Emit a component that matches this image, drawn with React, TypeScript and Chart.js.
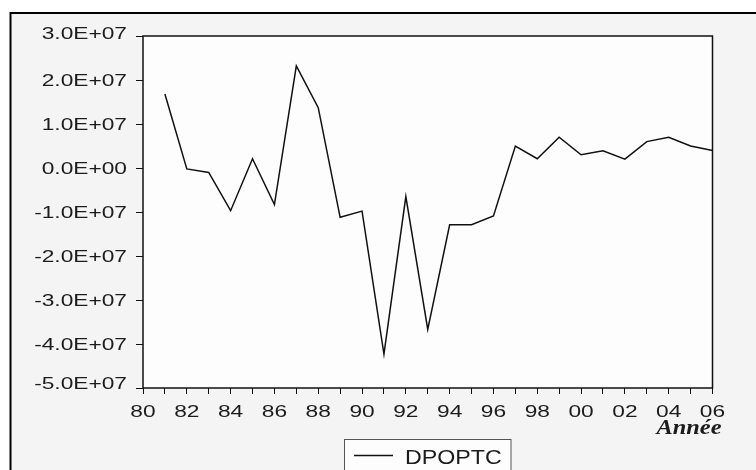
import { useEffect, useRef } from "react";
import { Chart, registerables } from "chart.js";

Chart.register(...registerables);

// Annual series, 1981–2006
const years = [
  1981, 1982, 1983, 1984, 1985, 1986, 1987, 1988, 1989, 1990, 1991, 1992, 1993,
  1994, 1995, 1996, 1997, 1998, 1999, 2000, 2001, 2002, 2003, 2004, 2005, 2006,
];
const dpoptc = [
  1.68e7, -0.02e7, -0.1e7, -0.97e7, 0.21e7, -0.83e7, 2.32e7, 1.37e7, -1.12e7,
  -0.98e7, -4.23e7, -0.65e7, -3.67e7, -1.29e7, -1.29e7, -1.09e7, 0.5e7, 0.21e7,
  0.7e7, 0.3e7, 0.39e7, 0.2e7, 0.6e7, 0.7e7, 0.5e7, 0.4e7,
];
const seriesName = "DPOPTC";
const axisTitle = "Année";

// Axis labelling
const xLabelYears = [1980, 1982, 1984, 1986, 1988, 1990, 1992, 1994, 1996, 1998, 2000, 2002, 2004, 2006];
const xTickLabels = ["80", "82", "84", "86", "88", "90", "92", "94", "96", "98", "00", "02", "04", "06"];
const yTickValues = [3e7, 2e7, 1e7, 0, -1e7, -2e7, -3e7, -4e7, -5e7];
const yTickLabels = [
  "3.0E+07", "2.0E+07", "1.0E+07", "0.0E+00", "-1.0E+07",
  "-2.0E+07", "-3.0E+07", "-4.0E+07", "-5.0E+07",
];

const W = 756;
const H = 470;
const TEXT = "#1c1c1c";
const PANEL = "#f4f4f4";

function wideText(
  ctx: CanvasRenderingContext2D,
  text: string,
  x: number,
  y: number,
  sx: number,
  align: CanvasTextAlign
) {
  ctx.save();
  ctx.translate(x, y);
  ctx.scale(sx, 1);
  ctx.textAlign = align;
  ctx.textBaseline = "alphabetic";
  ctx.fillText(text, 0, 0);
  ctx.restore();
}

const framePlugin = {
  id: "eviewsFrame",
  beforeDraw(chart: any) {
    const { ctx, chartArea } = chart;
    ctx.save();
    ctx.fillStyle = "#ffffff";
    ctx.fillRect(0, 0, W, H);
    // outer panel
    ctx.fillStyle = PANEL;
    ctx.fillRect(10.5, 13, W + 20, H + 20);
    ctx.strokeStyle = "#000";
    ctx.lineWidth = 2;
    ctx.strokeRect(10.5, 13, W + 20, H + 20);
    // plot area
    ctx.fillStyle = "#fdfdfd";
    ctx.fillRect(chartArea.left, chartArea.top, chartArea.right - chartArea.left, chartArea.bottom - chartArea.top);
    ctx.restore();
  },
  afterDraw(chart: any) {
    const { ctx, chartArea, scales } = chart;
    ctx.save();
    // plot border
    ctx.strokeStyle = "#111";
    ctx.lineWidth = 1.5;
    ctx.strokeRect(chartArea.left, chartArea.top, chartArea.right - chartArea.left, chartArea.bottom - chartArea.top);

    ctx.fillStyle = TEXT;
    ctx.font = '16px "Liberation Sans", Arial, sans-serif';
    // y tick labels
    yTickValues.forEach((v, i) => {
      let y = scales.y.getPixelForValue(v);
      if (i === 0) y -= 2.5;
      if (i === yTickValues.length - 1) y -= 5;
      wideText(ctx, yTickLabels[i], 127, y + 5.8, 1.42, "right");
    });
    // x tick labels
    xLabelYears.forEach((yr, i) => {
      const x = scales.x.getPixelForValue(yr);
      wideText(ctx, xTickLabels[i], x, 416.5, 1.42, "center");
    });

    // axis title
    ctx.font = 'italic bold 20px "Liberation Serif", "Times New Roman", serif';
    wideText(ctx, axisTitle, 721.5, 434.3, 1.22, "right");

    // legend box
    ctx.fillStyle = "#fdfdfd";
    ctx.fillRect(344.5, 439.5, 166.5, 40);
    ctx.strokeStyle = "#555";
    ctx.lineWidth = 1;
    ctx.strokeRect(344.5, 439.5, 166.5, 40);
    ctx.strokeStyle = "#111";
    ctx.lineWidth = 1.5;
    ctx.beginPath();
    ctx.moveTo(354, 455.5);
    ctx.lineTo(393, 455.5);
    ctx.stroke();
    ctx.fillStyle = TEXT;
    ctx.font = '19.5px "Liberation Sans", Arial, sans-serif';
    wideText(ctx, chart.data.datasets[0].label, 405, 464, 1.19, "left");
    ctx.restore();
  },
};

export default function App() {
  const canvasRef = useRef<HTMLCanvasElement | null>(null);

  useEffect(() => {
    const canvas = canvasRef.current;
    if (!canvas) return;
    const chart = new Chart(canvas, {
      type: "line",
      data: {
        datasets: [
          {
            label: seriesName,
            data: years.map((yr, i) => ({ x: yr, y: dpoptc[i] })),
            borderColor: "#111",
            borderWidth: 1.5,
            pointRadius: 0,
            tension: 0,
            fill: false,
          },
        ],
      },
      options: {
        animation: false,
        responsive: false,
        devicePixelRatio: 1,
        layout: { padding: { left: 0, top: 36, right: 43.5, bottom: 0 } },
        plugins: { legend: { display: false }, tooltip: { enabled: false } },
        scales: {
          x: {
            type: "linear",
            min: 1980,
            max: 2006,
            ticks: { stepSize: 1, display: false },
            grid: { drawOnChartArea: false, drawTicks: true, tickLength: 6, color: "#111", lineWidth: 1 },
            border: { display: false },
            afterFit: (s: any) => {
              s.height = 82;
            },
          },
          y: {
            min: -5e7,
            max: 3e7,
            ticks: { stepSize: 1e7, display: false },
            grid: { drawOnChartArea: false, drawTicks: true, tickLength: 7, color: "#111", lineWidth: 1 },
            border: { display: false },
            afterFit: (s: any) => {
              s.width = 143;
            },
          },
        },
      },
      plugins: [framePlugin],
    });
    return () => chart.destroy();
  }, []);

  return (
    <div style={{ position: "fixed", left: 0, top: 0, width: W, height: H }}>
      <canvas ref={canvasRef} width={W} height={H} style={{ display: "block" }} />
    </div>
  );
}
